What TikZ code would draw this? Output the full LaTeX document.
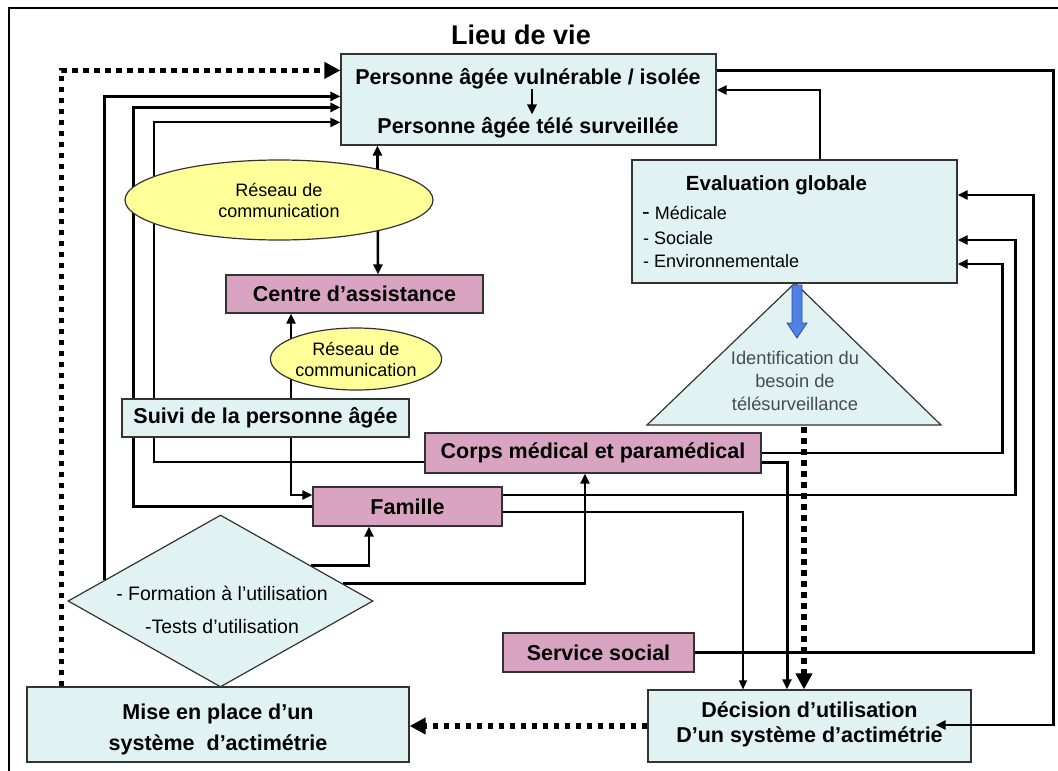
\documentclass[tikz,border=0pt]{standalone}
\usepackage{fontspec}
\setmainfont{Liberation Sans}
\usetikzlibrary{arrows.meta,calc,shapes.geometric,backgrounds}
\definecolor{boxblue}{RGB}{224,242,242}
\definecolor{boxpink}{RGB}{216,164,194}
\definecolor{ellyellow}{RGB}{255,255,153}
\definecolor{arrowblue}{RGB}{80,128,232}
\definecolor{tritext}{RGB}{70,75,85}
\newcommand{\bxfont}{\bfseries\fontsize{21.5}{26}\selectfont}
\newcommand{\smfont}{\fontsize{18}{21}\selectfont}
\begin{document}
\begin{tikzpicture}[x=1pt,y=-1pt,
  bluebox/.style={rectangle,draw=black!80,line width=1.2pt,fill=boxblue,inner sep=0pt,font=\bxfont,align=center},
  pinkbox/.style={rectangle,draw=black!80,line width=1.2pt,fill=boxpink,inner sep=0pt,font=\bxfont,align=center},
  yellell/.style={ellipse,draw=black!80,line width=1.2pt,fill=ellyellow,inner sep=0pt,font=\smfont,align=center},
  plaintext/.style={inner sep=0pt,align=center},
  conn/.style={line width=2.6pt,-{Triangle[length=10pt,width=9pt]}},
  thinconn/.style={line width=1.4pt,-{Triangle[length=9pt,width=8pt]}},
  dotconn/.style={line width=5.5pt,dash pattern=on 5.5pt off 5.5pt,-{Triangle[length=16pt,width=16pt]}},
]
\useasboundingbox (0,0) rectangle (1058,771);
\draw[line width=1.3pt] (9,771) -- (9,8) -- (1058,8);

\node[plaintext,font=\bfseries\fontsize{27}{32}\selectfont] (title) at (521,35) {Lieu de vie};

% top box
\node[bluebox,minimum width=375pt,minimum height=91pt] (pv) at (528.5,99.5) {};
\node[plaintext,font=\bxfont] (pv1) at (528,79) {Personne âgée vulnérable / isolée};
\node[plaintext,font=\bxfont] (pv2) at (528,128) {Personne âgée télé surveillée};

% networks and centre
\node[yellell,minimum width=308pt,minimum height=80pt] (ell) at (279,200) {Réseau de\\communication};
\node[pinkbox,minimum width=257pt,minimum height=38pt] (centre) at (354.5,294) {Centre d’assistance};
\node[yellell,minimum width=166pt,minimum height=62pt] (ells) at (356,359) {Réseau de\\communication};
\node[bluebox,minimum width=287pt,minimum height=38pt] (suivi) at (265.5,418) {Suivi de la personne âgée};
\node[pinkbox,minimum width=336pt,minimum height=40pt] (corps) at (593,453) {Corps médical et paramédical};
\node[pinkbox,minimum width=189pt,minimum height=39pt] (fam) at (407.5,506.5) {Famille};

% diamond
\node[diamond,draw=black!80,line width=1.2pt,fill=boxblue,inner sep=0pt,minimum width=305pt,minimum height=172pt] (dia) at (220.5,601) {};
\node[plaintext,font=\fontsize{19.5}{33}\selectfont] (diat) at (222,610) {- Formation à l’utilisation\\-Tests d’utilisation};

\node[bluebox,minimum width=382pt,minimum height=75pt] (mise) at (218,724.5) {};
\node[plaintext,font=\bfseries\fontsize{21.5}{31}\selectfont] (miset) at (218,729) {Mise en place d’un\\système\ \ d’actimétrie};
\node[bluebox,minimum width=323pt,minimum height=72pt] (dec) at (809.5,726) {};
\node[plaintext,font=\bfseries\fontsize{21.5}{25}\selectfont] (dect) at (809.5,724) {Décision d’utilisation\\D’un système d’actimétrie};
\node[pinkbox,minimum width=191pt,minimum height=39pt] (serv) at (598.5,652.5) {Service social};

% evaluation
\node[bluebox,minimum width=325pt,minimum height=123pt] (eval) at (794.5,221.5) {};
\node[plaintext,font=\bfseries\fontsize{20.5}{24}\selectfont] (evt) at (776.5,185) {Evaluation globale};
\node[plaintext,anchor=west,font=\fontsize{18}{20}\selectfont] (evm) at (642,213) {{\fontsize{23}{23}\selectfont -} Médicale};
\node[plaintext,anchor=west,font=\fontsize{18}{20}\selectfont] (evs) at (643,238) {- Sociale};
\node[plaintext,anchor=west,font=\fontsize{18}{20}\selectfont] (eve) at (643,261) {- Environnementale};

% triangle
\path[draw=black!80,line width=1.2pt,fill=boxblue] (795,283) coordinate (triA) -- (941,425) coordinate (triR) -- (647,425) coordinate (triL) -- cycle;
\node[plaintext,font=\fontsize{18.3}{23}\selectfont,text=tritext] (trit) at (795,381) {Identification du\\besoin de\\télésurveillance};
\path[fill=arrowblue,draw=arrowblue!60!black,line width=0.8pt] (792,285) -- (802,285) -- (802,323) -- (807,323) -- (797,338) -- (787,323) -- (792,323) -- cycle;

\begin{pgfonlayer}{background}
\draw[dotconn] ($(mise.north west)+(35,0)$) |- ($(pv.north west)+(0,17)$);
\draw[conn] ($(dia.west)!0.243!(dia.north)$) |- ($(pv.north west)+(0,43)$);
\draw[conn] (fam.west) -- ++(-179,0) |- ($(pv.north west)+(0,54)$);
\draw[conn,line width=2pt] ($(corps.west)+(0,9)$) -- ++(-270,0) |- ($(pv.north west)+(0,69)$);
\draw[line width=2.6pt,{Triangle[length=10pt,width=9pt]}-{Triangle[length=10pt,width=9pt]}] ($(pv.south west)+(37,0)$) -- ($(centre.north)+(23.5,0)$);
\draw[conn,line width=2pt] ($(suivi.north)+(25.5,0)$) -- ($(centre.south)+(-63.5,0)$);
\draw[conn,line width=2pt] ($(suivi.south)+(25.5,0)$) |- ($(fam.west)+(0,-11.5)$);
\draw[conn] ($(dia.north)!0.59!(dia.east)$) -| ($(fam.south)+(-38.5,0)$);
\draw[conn] ($(dia.north)!0.80!(dia.east)$) -| ($(corps.south)+(-8,0)$);
\draw[conn] ($(fam.east)+(0,-11.5)$) -- ++(513,0) |- ($(eval.east)+(0,18.5)$);
\draw[thinconn] ($(fam.east)+(0,5.5)$) -| ($(dec.north)+(-66.5,0)$);
\draw[conn] (corps.east) -- ++(241,0) |- ($(eval.east)+(0,42.5)$);
\draw[conn,line width=3pt] ($(corps.east)+(0,9)$) -| ($(dec.north)+(-22.5,0)$);
\draw[dotconn] ($(triL)!0.534!(triR)+(0,2)$) coordinate (tb) -- (tb |- dec.north);
\draw[conn] (serv.east) -- ++(339,0) |- ($(eval.east)+(0,-26.5)$);
\draw[conn] ($(eval.north)+(25.5,0)$) |- ($(pv.east)+(0,-9.5)$);
\draw[dotconn] (dec.west) -- (dec.west -| mise.east);
\end{pgfonlayer}

\draw[conn] ($(pv1.south)+(4,-1)$) -- ($(pv2.north)+(4,-3)$);
\draw[conn] ($(pv.north east)+(0,17)$) -- ++(337,0) |- ($(dec.east)+(-36,-1)$);
\end{tikzpicture}
\end{document}
